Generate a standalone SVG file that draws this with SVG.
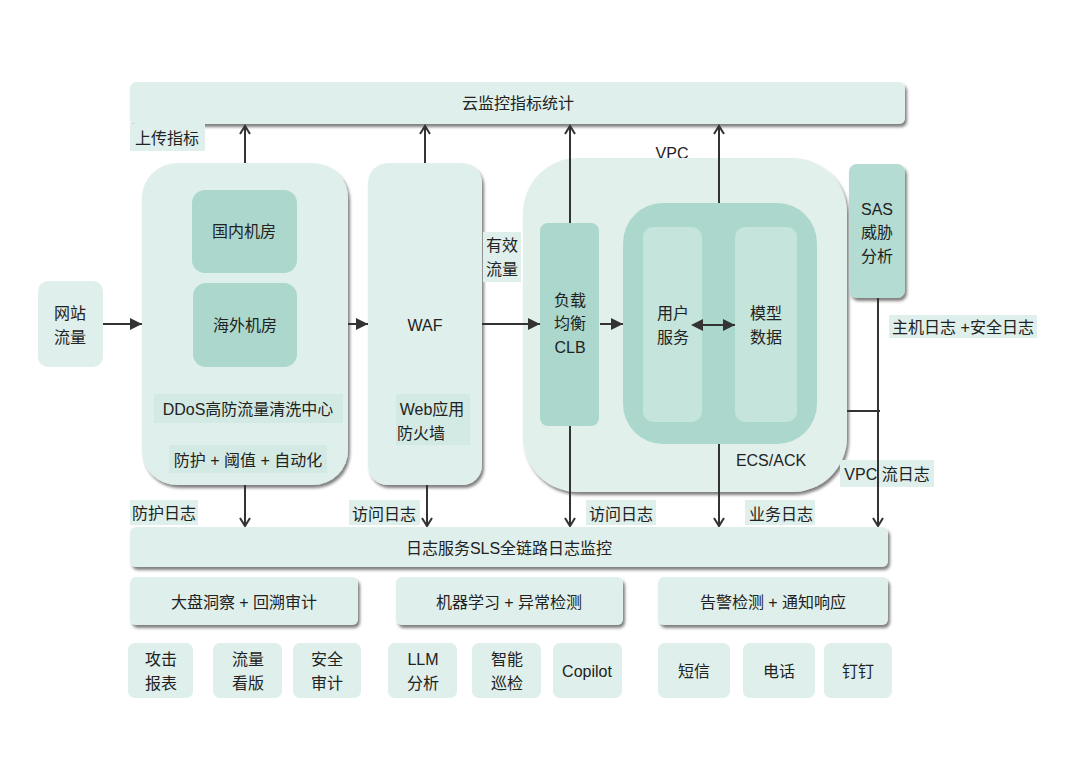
<svg xmlns="http://www.w3.org/2000/svg" width="1080" height="768" viewBox="0 0 1080 768">
<defs>
<style>
.lt{fill:#dfefeb}
.md{fill:#acd7cc}
.mi{fill:#c4e4dc}
.lb{fill:#dfefeb}
.tg{fill:#d3e9e3}
text{font-family:"Liberation Sans","Noto Sans CJK SC",sans-serif;font-size:16px;fill:#222;text-anchor:middle;dominant-baseline:central}
.ln{stroke:#333;stroke-width:2;fill:none}
.sh{filter:url(#ds)}
</style>
<filter id="ds" x="-10%" y="-10%" width="130%" height="140%">
<feDropShadow dx="2" dy="3" stdDeviation="1.5" flood-color="#000" flood-opacity="0.5"/>
</filter>
<marker id="open" markerWidth="12" markerHeight="12" refX="10" refY="6" orient="auto" markerUnits="userSpaceOnUse">
<path d="M2,1 L10,6 L2,11" fill="none" stroke="#333" stroke-width="2"/>
</marker>
<marker id="fill" markerWidth="14" markerHeight="14" refX="12" refY="7" orient="auto" markerUnits="userSpaceOnUse">
<path d="M0,1 L12,7 L0,13 Z" fill="#333"/>
</marker>
<marker id="fillS" markerWidth="14" markerHeight="14" refX="0" refY="7" orient="auto-start-reverse" markerUnits="userSpaceOnUse">
<path d="M0,1 L12,7 L0,13 Z" fill="#333"/>
</marker>
</defs>
<rect width="1080" height="768" fill="#fff"/>

<g id="cloudmonitor"><rect class="lt sh" x="130" y="82" width="775" height="42" rx="6"/><text x="518" y="103">云监控指标统计</text></g>
<g id="lbl-upload"><rect class="lb" x="130" y="124" width="75" height="27"/><text x="167" y="138">上传指标</text></g>

<g id="site"><rect class="lt" x="38" y="281" width="65" height="86" rx="10"/><text x="70" y="313">网站</text><text x="70" y="337">流量</text></g>

<g id="ddos">
<rect class="lt sh" x="142" y="163" width="206" height="322" rx="35"/>
<rect class="md" x="192" y="190" width="105" height="83" rx="13"/><text x="244" y="231">国内机房</text>
<rect class="md" x="193" y="283" width="104" height="84" rx="13"/><text x="245" y="325">海外机房</text>
<rect class="tg" x="154" y="394" width="189" height="29"/><text x="248" y="409">DDoS高防流量清洗中心</text>
<rect class="tg" x="169" y="445" width="158" height="28"/><text x="248" y="460">防护 + 阈值 + 自动化</text>
</g>

<g id="waf">
<rect class="lt sh" x="368" y="163" width="114" height="322" rx="20"/>
<text x="425" y="325">WAF</text>
<rect class="tg" x="396" y="394" width="74" height="51"/><text x="432" y="409">Web应用</text><text x="421" y="433">防火墙</text>
</g>

<g id="lbl-valid"><rect class="lb" x="483" y="232" width="38" height="50"/><text x="502" y="245">有效</text><text x="502" y="269">流量</text></g>

<g id="vpc">
<text x="672" y="153">VPC</text>
<rect class="sh" x="523" y="158" width="324" height="334" rx="55" fill="#e2f0ec"/>
<text x="771" y="460">ECS/ACK</text>
</g>
<g id="clb"><rect class="md" x="540" y="223" width="59" height="203" rx="8"/><text x="570" y="300">负载</text><text x="570" y="323">均衡</text><text x="570" y="347">CLB</text></g>
<g id="ecs">
<rect class="md" x="623" y="203" width="194" height="241" rx="40"/>
<rect class="mi" x="643" y="227" width="59" height="195" rx="10"/><text x="673" y="313">用户</text><text x="673" y="337">服务</text>
<rect class="mi" x="735" y="227" width="62" height="195" rx="10"/><text x="766" y="313">模型</text><text x="766" y="337">数据</text>
</g>

<g id="sas"><rect class="sh" x="849" y="164" width="56" height="134" rx="8" fill="#b4dcd2"/><text x="877" y="209">SAS</text><text x="877" y="232">威胁</text><text x="877" y="256">分析</text></g>
<g id="lbl-host"><rect class="lb" x="889" y="315" width="148" height="23"/><text x="963" y="327">主机日志 +安全日志</text></g>
<g id="lbl-vpcflow"><rect class="lb" x="840" y="460" width="94" height="27"/><text x="887" y="474">VPC 流日志</text></g>

<g id="lbl-logs">
<rect class="lb" x="130" y="500" width="68" height="25"/><text x="164" y="513">防护日志</text>
<rect class="lb" x="349" y="500" width="71" height="25"/><text x="384" y="514">访问日志</text>
<rect class="lb" x="586" y="500" width="70" height="25"/><text x="621" y="514">访问日志</text>
<rect class="lb" x="745" y="500" width="70" height="25"/><text x="781" y="514">业务日志</text>
</g>

<g id="connectors">
<line class="ln" x1="245" y1="163" x2="245" y2="126" marker-end="url(#open)"/>
<line class="ln" x1="425" y1="163" x2="425" y2="126" marker-end="url(#open)"/>
<line class="ln" x1="570" y1="223" x2="570" y2="126" marker-end="url(#open)"/>
<line class="ln" x1="719" y1="203" x2="719" y2="126" marker-end="url(#open)"/>
<line class="ln" x1="103" y1="324" x2="142" y2="324" marker-end="url(#fill)"/>
<line class="ln" x1="348" y1="324" x2="368" y2="324" marker-end="url(#fill)"/>
<line class="ln" x1="482" y1="324" x2="540" y2="324" marker-end="url(#fill)"/>
<line class="ln" x1="600" y1="324" x2="623" y2="324" marker-end="url(#fill)"/>
<line class="ln" x1="703" y1="325" x2="735" y2="325" marker-start="url(#fillS)" marker-end="url(#fill)"/>
<line class="ln" x1="245" y1="485" x2="245" y2="526" marker-end="url(#open)"/>
<line class="ln" x1="427" y1="485" x2="427" y2="526" marker-end="url(#open)"/>
<line class="ln" x1="570" y1="426" x2="570" y2="526" marker-end="url(#open)"/>
<line class="ln" x1="719" y1="444" x2="719" y2="526" marker-end="url(#open)"/>
<line class="ln" x1="878" y1="298" x2="878" y2="526" marker-end="url(#open)"/>
<line class="ln" x1="847" y1="411" x2="880" y2="411"/>
</g>

<g id="sls"><rect class="lt sh" x="130" y="527" width="758" height="40" rx="6"/><text x="509" y="548">日志服务SLS全链路日志监控</text></g>

<g id="dash"><rect class="lt sh" x="130" y="577" width="228" height="48" rx="6"/><text x="244" y="602">大盘洞察 +  回溯审计</text></g>
<g id="ml"><rect class="lt sh" x="396" y="577" width="227" height="48" rx="6"/><text x="509" y="602">机器学习 + 异常检测</text></g>
<g id="alert"><rect class="lt sh" x="658" y="577" width="230" height="48" rx="6"/><text x="773" y="602">告警检测 + 通知响应</text></g>

<g id="b-attack"><rect class="lt" x="128" y="643" width="65" height="55" rx="7"/><text x="161" y="659">攻击</text><text x="161" y="683">报表</text></g>
<g id="b-flow"><rect class="lt" x="213" y="643" width="69" height="55" rx="7"/><text x="248" y="659">流量</text><text x="248" y="683">看版</text></g>
<g id="b-audit"><rect class="lt" x="293" y="643" width="68" height="55" rx="7"/><text x="327" y="659">安全</text><text x="327" y="683">审计</text></g>
<g id="b-llm"><rect class="lt" x="388" y="643" width="69" height="55" rx="7"/><text x="423" y="659">LLM</text><text x="423" y="683">分析</text></g>
<g id="b-patrol"><rect class="lt" x="472" y="643" width="69" height="55" rx="7"/><text x="507" y="659">智能</text><text x="507" y="683">巡检</text></g>
<g id="b-copilot"><rect class="lt" x="553" y="643" width="69" height="55" rx="7"/><text x="587" y="671">Copilot</text></g>
<g id="b-sms"><rect class="lt" x="658" y="643" width="72" height="55" rx="7"/><text x="694" y="671">短信</text></g>
<g id="b-phone"><rect class="lt" x="743" y="643" width="72" height="55" rx="7"/><text x="779" y="671">电话</text></g>
<g id="b-ding"><rect class="lt" x="824" y="643" width="68" height="55" rx="7"/><text x="858" y="671">钉钉</text></g>
</svg>
